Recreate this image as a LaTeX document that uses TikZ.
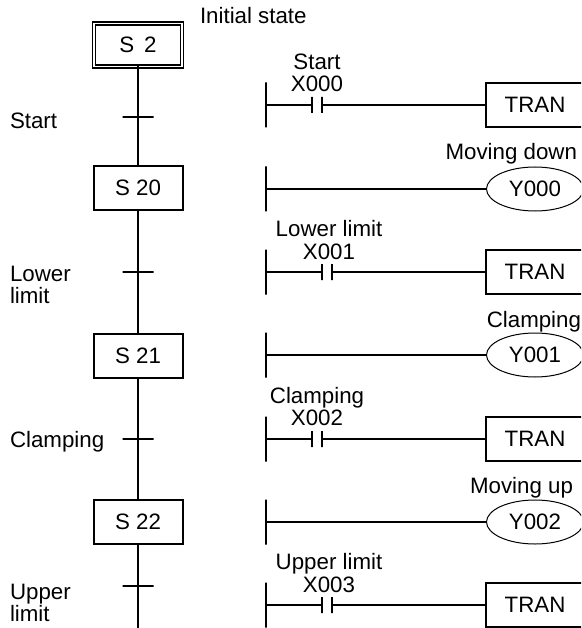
\documentclass[tikz,border=0pt]{standalone}
\usepackage{fontspec}
\setmainfont{Liberation Sans}
\usepackage{tikz}
\usetikzlibrary{positioning,shapes.geometric}
\begin{document}
\begin{tikzpicture}[
  x=1pt,y=-1pt,
  every node/.style={inner sep=0pt,outer sep=0pt,font=\fontsize{22.3}{21.5}\selectfont},
  statebox/.style={draw,line width=2pt,minimum width=89pt,minimum height=44pt},
  initbox/.style={draw,line width=1.3pt,double,double distance=1.6pt,minimum width=88pt,minimum height=43pt},
  tick/.style={draw,line width=1.5pt,minimum width=31pt,minimum height=0pt},
  rail/.style={draw,line width=2pt,minimum width=0pt,minimum height=45pt},
  plate/.style={draw,line width=2pt,minimum width=0pt,minimum height=16pt},
  tranbox/.style={draw,line width=2pt,minimum width=98pt,minimum height=44pt},
  coil/.style={draw,ellipse,line width=1pt,minimum width=97pt,minimum height=44pt},
  txt/.style={align=left},
  line/.style={line width=2pt}
]
\useasboundingbox (0,0) rectangle (581,628);
\clip (0,0) rectangle (581,628);

\node[initbox] (s2) at (138,45) {S\hspace{10pt}2};
\node[tick] (t1) at (138,117) {};
\node[statebox] (s20) at (138,188) {S 20};
\node[tick] (t2) at (138,272) {};
\node[statebox] (s21) at (138,355.5) {S 21};
\node[tick] (t3) at (138,439) {};
\node[statebox] (s22) at (138,522) {S 22};
\node[tick] (t4) at (138,586) {};
\coordinate (sfcend) at (138,628);
\draw[line] (s2)--(t1);
\draw[line] (t1)--(s20);
\draw[line] (s20)--(t2);
\draw[line] (t2)--(s21);
\draw[line] (s21)--(t3);
\draw[line] (t3)--(s22);
\draw[line] (s22)--(t4);
\draw[line] (t4)--(sfcend);

\node[txt,anchor=base west] (initlabel) at (200,24) {Initial state};
\node[txt,anchor=base west] (start) at (10,129) {Start};
\node[txt,anchor=west] (lower) at (10,285) {Lower\\limit};
\node[txt,anchor=base west] (clamp) at (10,447) {Clamping};
\node[txt,anchor=west] (upper) at (10,603) {Upper\\limit};

\node[rail] (r1) at (266,105) {};
\node[rail] (r2) at (266,189) {};
\node[rail] (r3) at (266,272) {};
\node[rail] (r4) at (266,355) {};
\node[rail] (r5) at (266,439) {};
\node[rail] (r6) at (266,522) {};
\node[rail] (r7) at (266,605) {};

\node[plate] (c1a) at (312,105) {};
\node[plate,right=10pt of c1a] (c1b) {};
\node[plate] (c3a) at (322,272) {};
\node[plate,right=10pt of c3a] (c3b) {};
\node[plate] (c5a) at (312,439) {};
\node[plate,right=10pt of c5a] (c5b) {};
\node[plate] (c7a) at (322,605) {};
\node[plate,right=10pt of c7a] (c7b) {};

\node[tranbox] (tran1) at (535,105) {TRAN};
\node[coil] (y0) at (535,189) {Y000};
\node[tranbox] (tran2) at (535,272) {TRAN};
\node[coil] (y1) at (535,355) {Y001};
\node[tranbox] (tran3) at (535,439) {TRAN};
\node[coil] (y2) at (535,522) {Y002};
\node[tranbox] (tran4) at (535,605) {TRAN};

\draw[line] (r1)--(c1a);
\draw[line] (c1b)--(tran1);
\draw[line] (r2)--(y0);
\draw[line] (r3)--(c3a);
\draw[line] (c3b)--(tran2);
\draw[line] (r4)--(y1);
\draw[line] (r5)--(c5a);
\draw[line] (c5b)--(tran3);
\draw[line] (r6)--(y2);
\draw[line] (r7)--(c7a);
\draw[line] (c7b)--(tran4);

\node[anchor=base] (x0name) at (317,70) {Start};
\node[anchor=base] (x0) at (317,92) {X000};
\node[anchor=base] (x1name) at (329,236) {Lower limit};
\node[anchor=base] (x1) at (329,259) {X001};
\node[anchor=base] (x2name) at (317,403) {Clamping};
\node[anchor=base] (x2) at (317,425) {X002};
\node[anchor=base] (x3name) at (329,569) {Upper limit};
\node[anchor=base] (x3) at (329,592) {X003};

\node[anchor=base east] (y0name) at (577,160) {Moving down};
\node[anchor=base east] (y1name) at (581,327) {Clamping};
\node[anchor=base east] (y2name) at (573,493) {Moving up};
\end{tikzpicture}
\end{document}
